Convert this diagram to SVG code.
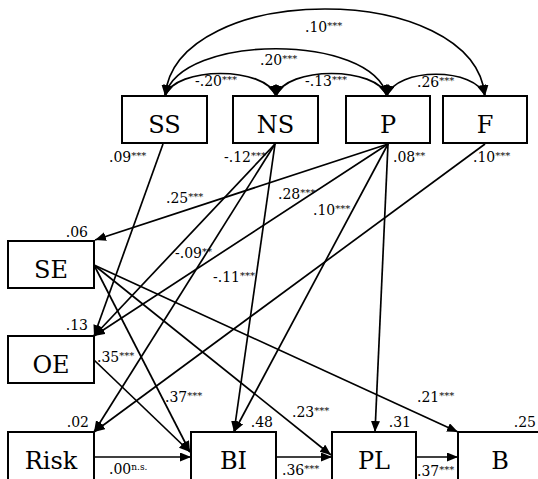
<svg xmlns="http://www.w3.org/2000/svg" width="538" height="479" viewBox="0 0 538 479">
<style>
.box{fill:#fff;stroke:#000;stroke-width:2}
.nt{font-family:"DejaVu Serif","Liberation Serif",serif;font-size:24px;text-anchor:middle;fill:#000}
.lb{font-family:"DejaVu Serif","Liberation Serif",serif;font-size:14px;fill:#000}
.r2{font-family:"DejaVu Serif","Liberation Serif",serif;font-size:14px;fill:#000;text-anchor:end}
.sp{font-size:10px}
.ns{font-size:9px}
.e{fill:none;stroke:#000;stroke-width:1.7;marker-end:url(#ah)}
.c{fill:none;stroke:#000;stroke-width:1.7;marker-end:url(#ah);marker-start:url(#ah)}
</style>
<defs>
<marker id="ah" markerUnits="userSpaceOnUse" markerWidth="12" markerHeight="10" refX="11" refY="4.5" orient="auto-start-reverse">
<path d="M0,0 L11,4.5 L0,9 z" fill="#000"/>
</marker>
</defs>
<rect width="538" height="479" fill="#fff"/>
<g id="connectors">
<path class="c" d="M165,96 C175,66 266,66 276,96"/>
<path class="c" d="M276,96 C286,66 377,66 387,96"/>
<path class="c" d="M387,96 C396,67 476,67 485,96"/>
<path class="c" d="M165,96 C180,33 372,33 387,96"/>
<path class="c" d="M165,96 C176,-20 474,-20 485,96"/>
<path class="e" d="M163,144 L94,336"/>
<path class="e" d="M275,144 L94,336"/>
<path class="e" d="M275,144 L94,432"/>
<path class="e" d="M275,144 L234,432"/>
<path class="e" d="M388,144 L95,240"/>
<path class="e" d="M388,144 L94,336"/>
<path class="e" d="M388,144 L234,432"/>
<path class="e" d="M388,144 L375,432"/>
<path class="e" d="M485,144 L94,432"/>
<path class="e" d="M94,265 L190,452"/>
<path class="e" d="M94,265 L331,455"/>
<path class="e" d="M94,265 L458,432"/>
<path class="e" d="M94,360 L190,452"/>
<path class="e" d="M94,457 L191,457"/>
<path class="e" d="M276,457 L332,457"/>
<path class="e" d="M416,457 L458,457"/>
</g>
<g id="labels">
<text class="lb" x="305" y="32">.10<tspan class="sp" dy="-3">***</tspan></text>
<text class="lb" x="260" y="65">.20<tspan class="sp" dy="-3">***</tspan></text>
<text class="lb" x="195" y="86">-.20<tspan class="sp" dy="-3">***</tspan></text>
<text class="lb" x="305" y="86">-.13<tspan class="sp" dy="-3">***</tspan></text>
<text class="lb" x="417" y="87">.26<tspan class="sp" dy="-3">***</tspan></text>
<text class="lb" x="109" y="162">.09<tspan class="sp" dy="-3">***</tspan></text>
<text class="lb" x="224" y="162">-.12<tspan class="sp" dy="-3">***</tspan></text>
<text class="lb" x="393" y="162">.08<tspan class="sp" dy="-3">**</tspan></text>
<text class="lb" x="473" y="162">.10<tspan class="sp" dy="-3">***</tspan></text>
<text class="lb" x="166" y="203">.25<tspan class="sp" dy="-3">***</tspan></text>
<text class="lb" x="278" y="199">.28<tspan class="sp" dy="-3">***</tspan></text>
<text class="lb" x="313" y="215">.10<tspan class="sp" dy="-3">***</tspan></text>
<text class="lb" x="175" y="258">-.09<tspan class="sp" dy="-3">**</tspan></text>
<text class="lb" x="213" y="282">-.11<tspan class="sp" dy="-3">***</tspan></text>
<text class="lb" x="97" y="362">.35<tspan class="sp" dy="-3">***</tspan></text>
<text class="lb" x="165" y="402">.37<tspan class="sp" dy="-3">***</tspan></text>
<text class="lb" x="292" y="417">.23<tspan class="sp" dy="-3">***</tspan></text>
<text class="lb" x="417" y="402">.21<tspan class="sp" dy="-3">***</tspan></text>
<text class="lb" x="109" y="474">.00<tspan class="ns" dy="-4">n.s.</tspan></text>
<text class="lb" x="282" y="475">.36<tspan class="sp" dy="-3">***</tspan></text>
<text class="lb" x="417" y="476">.37<tspan class="sp" dy="-3">***</tspan></text>
</g>
<g id="SS"><rect class="box" x="122" y="96" width="85" height="47"/><text class="nt" x="164.5" y="132.5">SS</text></g>
<g id="NS"><rect class="box" x="233" y="96" width="85" height="47"/><text class="nt" x="275.5" y="132.5">NS</text></g>
<g id="P"><rect class="box" x="346" y="96" width="84" height="47"/><text class="nt" x="388" y="132.5">P</text></g>
<g id="F"><rect class="box" x="443" y="96" width="84" height="47"/><text class="nt" x="485" y="132.5">F</text></g>
<g id="SE"><rect class="box" x="8" y="241" width="86" height="47"/><text class="nt" x="51" y="277.5">SE</text><text class="r2" x="88" y="237">.06</text></g>
<g id="OE"><rect class="box" x="8" y="336" width="86" height="47"/><text class="nt" x="51" y="372.5">OE</text><text class="r2" x="88" y="330">.13</text></g>
<g id="Risk"><rect class="box" x="8" y="432" width="86" height="50"/><text class="nt" x="51" y="469">Risk</text><text class="r2" x="89" y="427">.02</text></g>
<g id="BI"><rect class="box" x="191" y="432" width="85" height="50"/><text class="nt" x="233.5" y="469">BI</text><text class="r2" x="273" y="427">.48</text></g>
<g id="PL"><rect class="box" x="332" y="432" width="84" height="50"/><text class="nt" x="374" y="469">PL</text><text class="r2" x="411" y="427">.31</text></g>
<g id="B"><rect class="box" x="458" y="432" width="85" height="50"/><text class="nt" x="500" y="469">B</text><text class="r2" x="536" y="427">.25</text></g>
</svg>
